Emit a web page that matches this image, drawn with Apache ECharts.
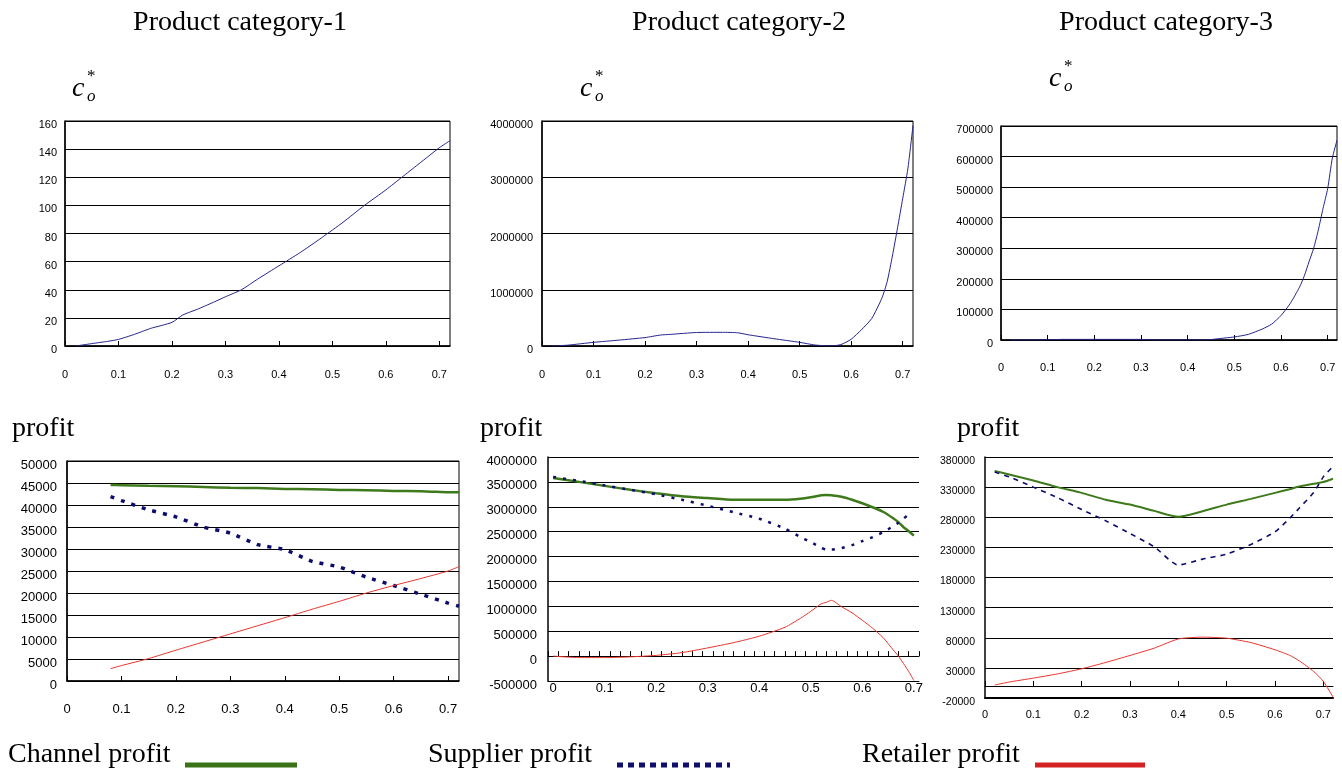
<!DOCTYPE html>
<html>
<head>
<meta charset="utf-8">
<script src="https://cdn.jsdelivr.net/npm/echarts@6/dist/echarts.min.js"></script>
<style>
html, body { margin: 0; padding: 0; background: #fff; }
#c { width: 1342px; height: 774px; }
</style>
</head>
<body>
<div id="c"></div>
<script>
// ---- shared tick labels on the horizontal axes ----
const xTickValues = [0, 0.1, 0.2, 0.3, 0.4, 0.5, 0.6, 0.7];
const xTickLabels = ['0', '0.1', '0.2', '0.3', '0.4', '0.5', '0.6', '0.7'];

// ---- optimal c_o* per product category ----
const cat1X  = [0.02, 0.05, 0.08, 0.10, 0.13, 0.16, 0.20, 0.22, 0.25, 0.28, 0.30, 0.33, 0.36, 0.40, 0.44, 0.48, 0.52, 0.56, 0.60, 0.63, 0.66, 0.68, 0.70, 0.72];
const cat1Co = [0, 1.7, 3.3, 4.7, 8.3, 12.5, 16.8, 22, 26.5, 31.5, 35, 40, 47.5, 57, 66.5, 77, 88, 100, 111, 120, 129, 135, 141, 146];

const cat2X  = [0.02, 0.05, 0.10, 0.15, 0.20, 0.23, 0.25, 0.30, 0.35, 0.38, 0.40, 0.45, 0.50, 0.53, 0.56, 0.58, 0.60, 0.62, 0.64, 0.66, 0.67, 0.68, 0.69, 0.70, 0.71, 0.72];
const cat2Co = [0, 15000, 65000, 105000, 150000, 195000, 207000, 240000, 243000, 235000, 200000, 130000, 65000, 18000, 0, 25000, 120000, 290000, 490000, 860000, 1150000, 1600000, 2100000, 2620000, 3150000, 3920000];

const cat3X  = [0.02, 0.10, 0.13, 0.20, 0.30, 0.32, 0.40, 0.44, 0.46, 0.50, 0.53, 0.56, 0.58, 0.60, 0.62, 0.64, 0.65, 0.66, 0.67, 0.68, 0.69, 0.70, 0.71, 0.72];
const cat3Co = [0, 0, 2000, 2000, 2000, 0, 0, 0, 3300, 10000, 18500, 36000, 52000, 80000, 120000, 174000, 210000, 256000, 300000, 360000, 430000, 495000, 595000, 653000];

// ---- profits, category 1 ----
const prof1X       = [0.08, 0.10, 0.15, 0.20, 0.25, 0.30, 0.35, 0.40, 0.45, 0.50, 0.55, 0.60, 0.65, 0.70, 0.72];
const prof1Channel = [44550, 44500, 44350, 44250, 44100, 43900, 43850, 43650, 43600, 43420, 43380, 43180, 43150, 42900, 42880];
const prof1Supplier= [41900, 41000, 38900, 37300, 35000, 33600, 31000, 29850, 27200, 25900, 23600, 21700, 19700, 17700, 17000];
const prof1Retailer= [2800, 3500, 5100, 7000, 8850, 10700, 12550, 14400, 16300, 18100, 20000, 21700, 23300, 25000, 26000];

// ---- profits, category 2 ----
const prof2X       = [0, 0.05, 0.10, 0.15, 0.20, 0.25, 0.30, 0.35, 0.40, 0.45, 0.48, 0.50, 0.52, 0.53, 0.54, 0.56, 0.58, 0.60, 0.62, 0.64, 0.66, 0.67, 0.68, 0.69, 0.70];
const prof2Channel = [3580000, 3500000, 3420000, 3340000, 3270000, 3210000, 3175000, 3140000, 3140000, 3140000, 3160000, 3190000, 3230000, 3235000, 3230000, 3200000, 3140000, 3070000, 2990000, 2900000, 2770000, 2690000, 2590000, 2510000, 2420000];
const prof2Supplier= [3600000, 3520000, 3430000, 3340000, 3250000, 3140000, 3020000, 2890000, 2760000, 2560000, 2390000, 2290000, 2180000, 2140000, 2140000, 2170000, 2230000, 2310000, 2390000, 2490000, 2610000, 2680000, 2760000, 2850000, null];
const prof2Retailer= [0, -30000, -30000, -15000, 15000, 70000, 165000, 270000, 400000, 580000, 760000, 900000, 1050000, 1080000, 1120000, 990000, 870000, 720000, 560000, 375000, 125000, 0, -150000, -310000, -490000];

// ---- profits, category 3 ----
const prof3X       = [0.02, 0.05, 0.10, 0.15, 0.20, 0.25, 0.30, 0.35, 0.40, 0.45, 0.50, 0.55, 0.60, 0.63, 0.65, 0.68, 0.70, 0.72];
const prof3Channel = [357000, 351000, 341000, 330000, 320500, 309000, 301000, 290600, 280700, 290000, 301000, 310500, 320500, 326500, 331000, 335500, 338600, 344000];
const prof3Supplier= [355000, 347000, 330000, 312600, 292800, 274000, 253000, 231000, 200700, 210500, 218800, 234800, 255800, 278000, 295000, 321000, 347000, 364500];
const prof3Retailer= [1500, 6500, 13000, 20000, 28500, 39000, 50600, 62700, 78000, 81000, 79300, 72000, 60000, 51000, 41800, 24000, 7600, -18300];

// ---- fine ticks on the category-2 profit axis ----
const prof2Ticks = [];
for (let k = 0; k <= 36; k++) prof2Ticks.push(+(-0.01 + 0.02 * k).toFixed(2));

const SANS = '"Liberation Sans", Arial, sans-serif';
const SERIF = '"Liberation Serif", "Times New Roman", serif';
const NAVY = '#24248e', GREEN = '#3e7a1c', BLUE = '#0c0c6c', RED = '#e8342c';

const pairs = (xs, ys) => xs.map((x, i) => [x, ys[i]]);
const xFmt = v => xTickLabels[xTickValues.indexOf(v)] ?? '';

const grids = [
  { left: 65,  top: 121, width: 385, height: 225, show: true, borderColor: '#000', borderWidth: 1, backgroundColor: 'transparent' },
  { left: 542, top: 121, width: 371, height: 225, show: true, borderColor: '#000', borderWidth: 1, backgroundColor: 'transparent' },
  { left: 1001, top: 126, width: 336, height: 214, show: true, borderColor: '#000', borderWidth: 1, backgroundColor: 'transparent' },
  { left: 67,  top: 461, width: 392, height: 220, show: true, borderColor: '#000', borderWidth: 1, backgroundColor: 'transparent' },
  { left: 548, top: 457, width: 371, height: 224 },
  { left: 985, top: 457, width: 348, height: 241 }
];

// value labels sit a little below their grid line
function yAxis(gi, min, max, step, fs, margin) {
  return {
    type: 'value', gridIndex: gi, min: min, max: max, interval: step,
    axisLine: { show: true, onZero: false, lineStyle: { color: '#000', width: 1.5 } },
    axisTick: { show: false },
    splitLine: { show: true, lineStyle: { color: '#000', width: 1 } },
    axisLabel: {
      fontFamily: SANS, fontSize: fs, color: '#000', margin: margin,
      verticalAlign: 'top', lineHeight: 8,
      formatter: v => String(v)
    }
  };
}

// axis carrying line, ticks and labels together
function xAxisFull(gi, min, max, fs, margin) {
  return {
    type: 'value', gridIndex: gi, min: min, max: max,
    axisLine: { onZero: false, lineStyle: { color: '#000', width: 1.5 } },
    axisTick: { show: true, inside: true, length: 5, customValues: xTickValues, lineStyle: { color: '#000' } },
    axisLabel: { customValues: xTickValues, formatter: xFmt, fontFamily: SANS, fontSize: fs, color: '#000', margin: margin },
    splitLine: { show: false }
  };
}
// axis line sitting on y = 0 with upward ticks, no labels
function xAxisZero(gi, min, max, ticks) {
  return {
    type: 'value', gridIndex: gi, min: min, max: max,
    axisLine: { onZero: true, lineStyle: { color: '#000', width: 1 } },
    axisTick: { show: true, inside: true, length: 5, customValues: ticks, lineStyle: { color: '#000' } },
    axisLabel: { show: false },
    splitLine: { show: false }
  };
}
// bottom edge carrying the labels
function xAxisBottom(gi, min, max, fs, margin, lw) {
  return {
    type: 'value', gridIndex: gi, min: min, max: max, position: 'bottom',
    axisLine: { onZero: false, lineStyle: { color: '#000', width: lw } },
    axisTick: { show: false },
    axisLabel: { customValues: xTickValues, formatter: xFmt, fontFamily: SANS, fontSize: fs, color: '#000', margin: margin },
    splitLine: { show: false }
  };
}

const xAxes = [
  xAxisFull(0, 0, 0.72, 11, 23),
  xAxisFull(1, 0, 0.72, 11, 23),
  xAxisFull(2, 0, 0.72, 11, 22),
  xAxisFull(3, 0, 0.72, 13, 22),
  xAxisZero(4, -0.01, 0.71, prof2Ticks),
  xAxisBottom(4, -0.01, 0.71, 13, 1, 1),
  xAxisZero(5, 0, 0.72, xTickValues),
  xAxisBottom(5, 0, 0.72, 11, 11, 2)
];

const yAxes = [
  yAxis(0, 0, 160, 20, 11, 8),
  yAxis(1, 0, 4000000, 1000000, 11, 9),
  yAxis(2, 0, 700000, 100000, 11, 8),
  yAxis(3, 0, 50000, 5000, 13, 10),
  yAxis(4, -500000, 4000000, 500000, 13, 11),
  yAxis(5, -20000, 380000, 50000, 10.5, 10)
];

function line(xi, yi, data, color, width, dash) {
  return {
    type: 'line', xAxisIndex: xi, yAxisIndex: yi, data: data,
    showSymbol: false, symbol: 'none', smooth: 0.2, silent: true, connectNulls: false,
    lineStyle: { color: color, width: width, type: dash || 'solid', cap: 'butt' }
  };
}

const series = [
  line(0, 0, pairs(cat1X, cat1Co), NAVY, 1),
  line(1, 1, pairs(cat2X, cat2Co), NAVY, 1),
  line(2, 2, pairs(cat3X, cat3Co), NAVY, 1),

  line(3, 3, pairs(prof1X, prof1Channel), GREEN, 2.5),
  line(3, 3, pairs(prof1X, prof1Supplier), BLUE, 3.5, [4, 7]),
  line(3, 3, pairs(prof1X, prof1Retailer), RED, 1),

  line(4, 4, pairs(prof2X, prof2Channel), GREEN, 2.5),
  line(4, 4, pairs(prof2X, prof2Supplier), BLUE, 2.5, [3, 7]),
  line(4, 4, pairs(prof2X, prof2Retailer), RED, 1),

  line(6, 5, pairs(prof3X, prof3Channel), GREEN, 2),
  line(6, 5, pairs(prof3X, prof3Supplier), BLUE, 1.6, [5, 5]),
  line(6, 5, pairs(prof3X, prof3Retailer), RED, 1)
];

// text helpers for headings and labels
function txt(text, x, y, size, opts) {
  opts = opts || {};
  return {
    type: 'text', silent: true,
    style: {
      text: text, x: x, y: y,
      font: (opts.italic ? 'italic ' : '') + size + 'px ' + SERIF,
      fill: '#000', align: opts.align || 'left', verticalAlign: 'middle'
    }
  };
}
function coLabel(x, y) {
  return [
    txt('c', x, y, 28, { italic: true }),
    txt('o', x + 15, y + 8, 17, { italic: true }),
    txt('*', x + 15, y - 12, 17)
  ];
}
function legendLine(x1, x2, y, color, dash) {
  return {
    type: 'line', silent: true,
    shape: { x1: x1, y1: y, x2: x2, y2: y },
    style: { stroke: color, lineWidth: 5, lineDash: dash || null }
  };
}

const graphics = [
  txt('Product category-1', 240, 23, 28, { align: 'center' }),
  txt('Product category-2', 739, 23, 28, { align: 'center' }),
  txt('Product category-3', 1166, 23, 28, { align: 'center' }),
  ...coLabel(72, 88.6),
  ...coLabel(580, 88.6),
  ...coLabel(1049, 78.6),
  txt('profit', 12, 428.5, 28),
  txt('profit', 480, 428.5, 28),
  txt('profit', 957, 428.5, 28),
  txt('Channel profit', 8, 754.5, 28),
  legendLine(185, 297, 765, '#3a7317'),
  txt('Supplier profit', 428, 754.5, 28),
  legendLine(617, 730, 765, '#10106c', [6, 5]),
  txt('Retailer profit', 862, 754.5, 28),
  legendLine(1035, 1145, 765, '#d42222')
];

const chart = echarts.init(document.getElementById('c'), null, { renderer: 'canvas' });
chart.setOption({
  animation: false,
  backgroundColor: '#fff',
  grid: grids,
  xAxis: xAxes,
  yAxis: yAxes,
  series: series,
  graphic: graphics
});
</script>
</body>
</html>
